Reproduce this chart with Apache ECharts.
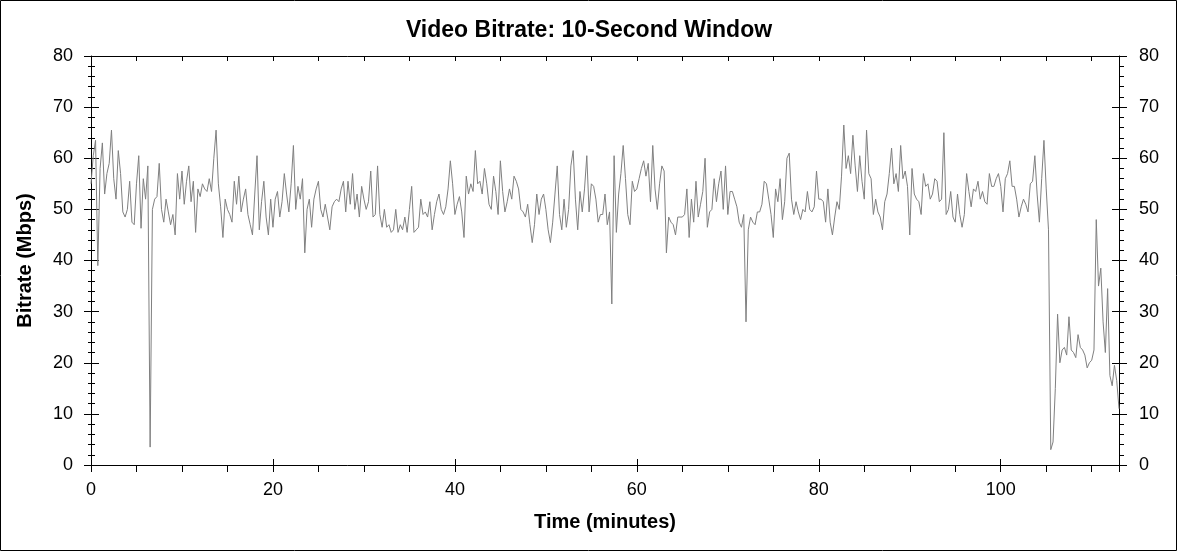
<!DOCTYPE html>
<html>
<head>
<meta charset="utf-8">
<script src="https://cdn.jsdelivr.net/npm/echarts@6/dist/echarts.min.js"></script>
<style>
html,body{margin:0;padding:0;background:#fff;}
#chart{width:1178px;height:552px;}
</style>
</head>
<body>
<div id="chart"></div>
<script>
// Time axis: one sample every 0.25 minute starting at 0
const startMinute = 0;
const stepMinutes = 0.25;
// Video bitrate (Mbps), 10-second window
const bitrateMbps = [
  55, 60.5, 63.5, 39, 58, 63, 53, 57, 59, 65.5, 56, 52, 61.5, 57, 49.5, 48.5, 50, 55.5, 47.5, 47,
  55, 60.5, 46.3, 56, 52, 58.5, 3.5, 50, 52, 52.5, 59, 50, 47.5, 52, 49.5, 47, 49, 45, 57, 52,
  57.5, 51, 55.5, 58.5, 51.5, 55.5, 45.5, 54, 52.5, 55, 54, 53.5, 56, 53.5, 60, 65.5, 55, 50.5, 44.5, 52,
  50, 49, 47.5, 55.5, 51, 56.5, 49.5, 52, 54, 49, 47, 45, 53, 60.5, 46, 51.5, 55.5, 48.5, 45, 52,
  46.5, 52, 53.5, 48.5, 51.5, 57, 53, 49.5, 55, 62.5, 50, 54.5, 52, 56, 41.5, 50, 52, 46.5, 52, 54,
  55.5, 50, 48.5, 51, 48.5, 46, 50.5, 51.5, 52, 51.5, 54, 55.5, 49.5, 55.5, 51, 57, 50, 53, 48.5, 54.5,
  52, 50, 51.5, 57.5, 48.5, 49, 58.5, 49, 46.5, 50, 46.5, 47, 45.5, 46, 50, 45.5, 47, 46, 48.5, 45.5,
  50, 54.5, 45.5, 46, 46.5, 52, 49, 49.5, 48.5, 51.5, 46, 49, 51.5, 53, 50, 49, 50.5, 54, 59.5, 55,
  49, 51, 52.5, 49.5, 44.5, 56.5, 53, 55, 53.5, 61.5, 55, 55.5, 53, 58, 55, 51, 50, 56.5, 53.5, 49,
  59.5, 53.5, 49.5, 51.5, 54, 52, 56.5, 55.5, 54, 50, 49.5, 48.5, 51, 47, 43.5, 47, 53, 49, 52, 53,
  50, 46, 43.5, 47.5, 53, 58.5, 49, 46, 52, 46.5, 50, 58.5, 61.5, 52, 46, 53.5, 49.5, 54, 60.5, 49.5,
  55, 54.5, 52, 47.5, 49, 49, 53, 47, 49.5, 31.5, 60.5, 45.5, 53, 57, 62.5, 56, 49, 47, 55.5, 53.5,
  54, 56, 58, 59.5, 56.5, 59, 51.5, 62.5, 54, 50, 55, 58.5, 57.5, 41.5, 48.5, 47.5, 47, 45, 48.5, 48.5,
  48.5, 49, 54, 44.5, 52, 47.5, 55.5, 48.5, 51, 53.5, 60, 46.5, 49.5, 50, 56, 51.5, 55, 57.5, 50, 58.5,
  49, 53.5, 53.5, 52, 50.5, 47.5, 46.5, 49, 28, 46, 48.5, 47.5, 47, 49.5, 49.5, 51, 55.5, 55, 52, 49,
  44.5, 54, 51.5, 56, 48, 51.5, 60, 61, 52, 49, 51.5, 49.5, 48, 50, 49.5, 53.5, 50, 49.5, 50.5, 57.5,
  52, 52, 51.5, 47.5, 54, 47.5, 45, 48.5, 51.5, 50, 56.5, 66.5, 58, 60.5, 57, 64.5, 58.5, 53.5, 60.5, 55.5,
  52, 65.5, 57, 56, 49, 52, 49.5, 48.5, 46, 51.5, 53, 57, 62, 55, 57, 53.5, 62.5, 56, 57.5, 54.5,
  45, 58, 53, 52, 51.5, 49, 57, 54.5, 55, 52, 53, 56, 55.5, 51.5, 52, 65, 49, 50, 53.5, 48.5,
  47.5, 53, 49, 46.5, 49, 57, 53.5, 50.5, 54, 53.5, 55.5, 52, 53.5, 51.5, 51, 57, 54.5, 54.5, 56, 57,
  54.5, 49.5, 56, 57, 59.5, 54.5, 54.5, 52, 48.5, 50.5, 52, 51, 49.5, 55, 55.5, 60.5, 53, 47.5, 56, 63.5,
  54, 46, 3, 4.5, 15, 29.5, 20, 22.5, 23, 21.5, 29, 22.5, 22, 21, 25.5, 23, 22.5, 21.5, 19, 20,
  20.5, 22.5, 48, 35, 38.5, 28, 22, 34.5, 17.5, 15.5, 19.5, 16.5, 11
];
const xMin = 0, xMax = 113, xMajor = 20, xMinor = 5;
const yMin = 0, yMax = 80, yMajor = 10;
const titleText = 'Video Bitrate: 10-Second Window';
const xName = 'Time (minutes)';
const yName = 'Bitrate (Mbps)';

const points = bitrateMbps.map((v, i) => [startMinute + i * stepMinutes, v]);

const FONT = 'Arial, "Liberation Sans", sans-serif';
const black = '#000';
const tickLine = { color: black, width: 1 };

const chart = echarts.init(document.getElementById('chart'), null, { renderer: 'canvas' });
chart.setOption({
  animation: false,
  backgroundColor: '#fff',
  title: {
    text: titleText,
    left: 'center',
    top: 14,
    textStyle: { fontFamily: FONT, fontSize: 23, fontWeight: 'bold', color: black }
  },
  grid: { left: 91, top: 56, width: 1028, height: 409, containLabel: false, outerBoundsMode: 'none' },
  graphic: [{
    type: 'rect', silent: true,
    shape: { x: 0.5, y: 0.5, width: 1176, height: 550 },
    style: { fill: 'none', stroke: black, lineWidth: 1 }
  }],
  xAxis: [
    {
      type: 'value', position: 'bottom', min: xMin, max: xMax, interval: xMinor,
      axisLine: { show: true, onZero: false, lineStyle: tickLine },
      axisTick: { show: true, inside: false, length: 7, lineStyle: tickLine },
      axisLabel: {
        show: true, margin: 16, fontFamily: FONT, fontSize: 18, color: black,
        formatter: v => (v % xMajor === 0 ? String(v) : '')
      },
      splitLine: { show: false },
      name: xName, nameLocation: 'middle', nameGap: 47,
      nameTextStyle: { fontFamily: FONT, fontSize: 20, fontWeight: 'bold', color: black }
    },
    {
      type: 'value', position: 'bottom', min: xMin, max: xMax, interval: xMajor,
      axisLine: { show: false, onZero: false },
      axisTick: { show: true, inside: true, length: 6, lineStyle: tickLine },
      axisLabel: { show: false }, splitLine: { show: false }
    },
    {
      type: 'value', position: 'top', min: xMin, max: xMax, interval: xMinor,
      axisLine: { show: true, onZero: false, lineStyle: tickLine },
      axisTick: { show: true, inside: true, length: 5, lineStyle: tickLine },
      axisLabel: { show: false }, splitLine: { show: false }
    }
  ],
  yAxis: [
    {
      type: 'value', position: 'left', min: yMin, max: yMax, interval: yMajor,
      axisLine: { show: true, onZero: false, lineStyle: tickLine },
      axisTick: { show: true, inside: false, length: 7, lineStyle: tickLine },
      minorTick: { show: true, splitNumber: 5, length: 3, lineStyle: tickLine },
      axisLabel: { show: true, margin: 18, fontFamily: FONT, fontSize: 18, color: black },
      splitLine: { show: false },
      name: yName, nameLocation: 'middle', nameGap: 56,
      nameTextStyle: { fontFamily: FONT, fontSize: 20, fontWeight: 'bold', color: black }
    },
    {
      type: 'value', position: 'left', min: yMin, max: yMax, interval: yMajor,
      axisLine: { show: false, onZero: false },
      axisTick: { show: true, inside: true, length: 8, lineStyle: tickLine },
      minorTick: { show: true, splitNumber: 5, length: 4, lineStyle: tickLine },
      axisLabel: { show: false }, splitLine: { show: false }
    },
    {
      type: 'value', position: 'right', min: yMin, max: yMax, interval: yMajor,
      axisLine: { show: true, onZero: false, lineStyle: tickLine },
      axisTick: { show: true, inside: false, length: 8, lineStyle: tickLine },
      minorTick: { show: true, splitNumber: 5, length: 5, lineStyle: tickLine },
      axisLabel: { show: true, margin: 20, fontFamily: FONT, fontSize: 18, color: black },
      splitLine: { show: false }
    },
    {
      type: 'value', position: 'right', min: yMin, max: yMax, interval: yMajor,
      axisLine: { show: false, onZero: false },
      axisTick: { show: true, inside: true, length: 7, lineStyle: tickLine },
      axisLabel: { show: false }, splitLine: { show: false }
    }
  ],
  series: [{
    type: 'line',
    xAxisIndex: 0, yAxisIndex: 0,
    data: points,
    showSymbol: false,
    symbol: 'none',
    lineStyle: { color: '#808080', width: 1 },
    clip: true
  }]
});
</script>
</body>
</html>
